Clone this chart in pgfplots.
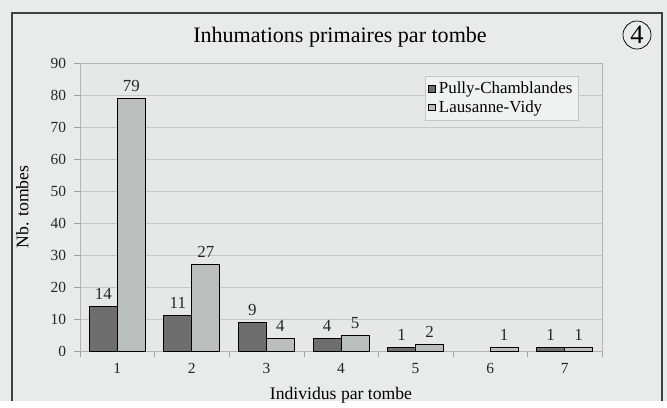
\documentclass[border=0pt]{standalone}
\usepackage{fontspec}
\setmainfont{Liberation Serif}
\usepackage{pgfplots}
\pgfplotsset{compat=1.18}

\definecolor{pully}{HTML}{6E6E6E}
\definecolor{vidy}{HTML}{BABEBD}
\definecolor{paper}{HTML}{E9EAEA}
\definecolor{plotbg}{HTML}{E6E8E8}
\definecolor{gridc}{HTML}{C4C8C8}

\begin{document}
\begin{tikzpicture}[x=0.68pt, y=0.68pt]
% page and frame (y measured upwards from the bottom edge)
\fill[paper] (0,0) rectangle (667,401);
\draw[black!75, line width=0.9pt] (12,0) -- (12,388) -- (662,388) -- (662,0);
\node[font=\fontsize{15}{17}\selectfont] at (340,364) {Inhumations primaires par tombe};
\node[draw, circle, line width=0.5pt, inner sep=1pt, minimum size=28*0.68pt,
      font=\fontsize{18}{20}\selectfont] at (637,366) {4};

\begin{axis}[
    at={(80*0.68pt,50*0.68pt)}, anchor=south west,
    scale only axis,
    width=522*0.68pt, height=288*0.68pt,
    ybar=0pt, bar width=28*0.68pt,
    xmin=0.5, xmax=7.5,
    ymin=0, ymax=90,
    xtick={1,...,7},
    ytick={0,10,...,90},
    xtick pos=bottom, ytick pos=left,
    minor xtick={0.5,1.5,...,7.5},
    tick align=outside,
    major x tick style={draw=none},
    minor tick length=4pt,
    minor x tick style={draw=gridc!80!black},
    major tick length=4pt,
    ytick style={draw=gridc!80!black},
    ymajorgrids,
    grid style={gridc, line width=0.6pt},
    axis background/.style={fill=plotbg},
    axis line style={gridc!90!black},
    /pgf/number format/assume math mode=true,
    tick label style={font=\fontsize{10.5}{12}\selectfont, text=black!85},
    xticklabel style={yshift=-1pt},
    yticklabel style={xshift=-2pt},
    xlabel={Individus par tombe},
    ylabel={Nb. tombes},
    label style={font=\fontsize{12}{14}\selectfont},
    xlabel style={yshift=-2pt},
    ylabel style={yshift=8pt},
    nodes near coords,
    every node near coord/.append style={font=\fontsize{11.5}{13}\selectfont, text=black!85, yshift=1pt},
    legend style={at={(0.955,0.955)}, anchor=north east, draw=gridc, fill=plotbg!60!white,
                  font=\fontsize{11.5}{13}\selectfont, row sep=-1pt,
                  inner xsep=2pt, inner ysep=2pt},
    legend image code/.code={\draw[#1] (0cm,-0.08cm) rectangle (0.16cm,0.08cm);},
    legend cell align=left,
]
\addplot[fill=pully, draw=black, line width=0.6pt] coordinates {
    (1,14) (2,11) (3,9) (4,4) (5,1) (7,1)
};
\addplot[fill=vidy, draw=black, line width=0.6pt] coordinates {
    (1,79) (2,27) (3,4) (4,5) (5,2) (6,1) (7,1)
};
\legend{Pully-Chamblandes, Lausanne-Vidy}
\end{axis}
\end{tikzpicture}
\end{document}
